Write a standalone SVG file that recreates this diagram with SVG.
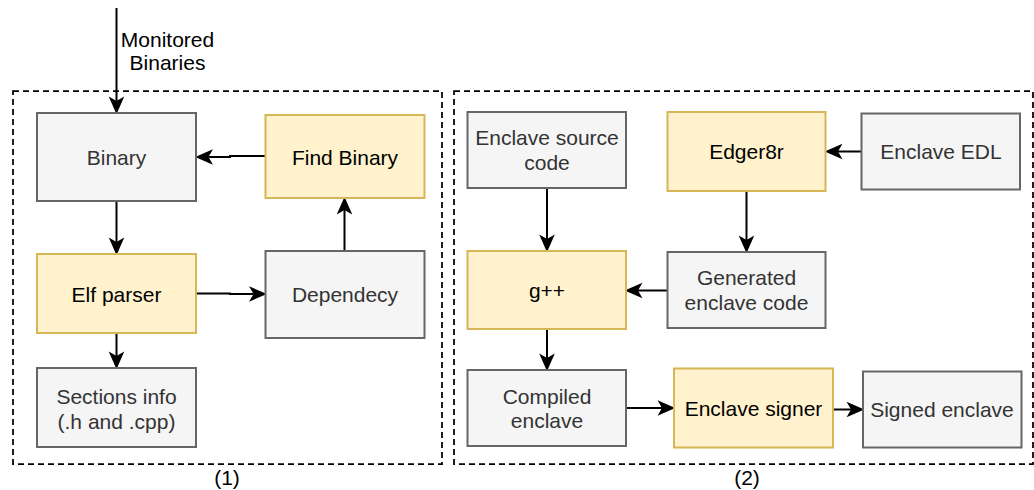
<svg xmlns="http://www.w3.org/2000/svg" width="1034" height="490" viewBox="0 0 1034 490">
  <style>
    .gray { fill: #f5f5f5; stroke: #666666; stroke-width: 2; }
    .yel { fill: #fff2cc; stroke: #d6b656; stroke-width: 2; }
    .grp { fill: none; stroke: #000000; stroke-width: 1.75; stroke-dasharray: 6 4; }
    text { font-family: "Liberation Sans", Arial, Helvetica, sans-serif; font-size: 21px; text-anchor: middle; }
    .tg { fill: #333333; }
    .tb { fill: #000000; }
    .edge { fill: none; stroke: #000000; stroke-width: 2; marker-end: url(#arr); }
  </style>
  <defs>
    <marker id="arr" markerUnits="userSpaceOnUse" markerWidth="20" markerHeight="20" viewBox="-5 -8 18 16" refX="0" refY="0" orient="auto">
      <path d="M12,0 L-4,-7 L0,0 L-4,7 Z" fill="#000000"/>
    </marker>
  </defs>
  <rect width="1034" height="490" fill="#ffffff"/>

  <g id="group1">
    <rect class="grp" x="13" y="91" width="429" height="373"/>
    <text class="tb" x="227" y="485">(1)</text>
  </g>
  <g id="group2">
    <rect class="grp" x="454" y="91" width="579" height="373"/>
    <text class="tb" x="747" y="485">(2)</text>
  </g>

  <g id="connectors">
    <line class="edge" x1="116.5" y1="8" x2="116.5" y2="101"/>
    <text class="tb" x="167.5" y="47">Monitored</text>
    <text class="tb" x="167.5" y="70">Binaries</text>
    <line class="edge" x1="116.5" y1="201" x2="116.5" y2="242"/>
    <line class="edge" x1="116.5" y1="333" x2="116.5" y2="356"/>
    <path class="edge" d="M196,293.5 H230 V294 H253.5"/>
    <path class="edge" d="M265.5,156 H230 V157 H208.5"/>
    <line class="edge" x1="344.5" y1="251" x2="344.5" y2="210"/>

    <line class="edge" x1="861.5" y1="151.5" x2="838" y2="151.5"/>
    <line class="edge" x1="547" y1="188" x2="547" y2="239"/>
    <line class="edge" x1="746.5" y1="191" x2="746.5" y2="240"/>
    <line class="edge" x1="667.5" y1="290.5" x2="638" y2="290.5"/>
    <line class="edge" x1="547" y1="329" x2="547" y2="358"/>
    <line class="edge" x1="626" y1="408" x2="662" y2="408"/>
    <line class="edge" x1="833" y1="409.5" x2="851" y2="409.5"/>
  </g>

  <g id="binary">
    <rect class="gray" x="37" y="113" width="159" height="88"/>
    <text class="tg" x="116.5" y="165">Binary</text>
  </g>
  <g id="find-binary">
    <rect class="yel" x="265.5" y="115" width="159" height="83"/>
    <text class="tb" x="345" y="164.5">Find Binary</text>
  </g>
  <g id="elf-parser">
    <rect class="yel" x="37" y="254" width="159" height="79"/>
    <text class="tb" x="116.5" y="301.5">Elf parser</text>
  </g>
  <g id="dependecy">
    <rect class="gray" x="265.5" y="251" width="159" height="87"/>
    <text class="tg" x="345" y="302">Dependecy</text>
  </g>
  <g id="sections-info">
    <rect class="gray" x="37" y="368" width="159" height="79"/>
    <text class="tg" x="116.5" y="403.5">Sections info</text>
    <text class="tg" x="116.5" y="428.5">(.h and .cpp)</text>
  </g>

  <g id="enclave-source">
    <rect class="gray" x="467.5" y="112" width="158.5" height="76"/>
    <text class="tg" x="547" y="145">Enclave source</text>
    <text class="tg" x="547" y="169.5">code</text>
  </g>
  <g id="edger8r">
    <rect class="yel" x="667.5" y="112" width="158" height="79"/>
    <text class="tb" x="746.5" y="159">Edger8r</text>
  </g>
  <g id="enclave-edl">
    <rect class="gray" x="861.5" y="113.5" width="158.5" height="76"/>
    <text class="tg" x="941" y="159">Enclave EDL</text>
  </g>
  <g id="gpp">
    <rect class="yel" x="467.5" y="251" width="158.5" height="78"/>
    <text class="tb" x="547" y="298">g++</text>
  </g>
  <g id="generated">
    <rect class="gray" x="667.5" y="252" width="158" height="76"/>
    <text class="tg" x="746.5" y="285">Generated</text>
    <text class="tg" x="746.5" y="310">enclave code</text>
  </g>
  <g id="compiled">
    <rect class="gray" x="467.5" y="370" width="158.5" height="76"/>
    <text class="tg" x="547" y="403.5">Compiled</text>
    <text class="tg" x="547" y="428">enclave</text>
  </g>
  <g id="enclave-signer">
    <rect class="yel" x="674" y="368.5" width="159" height="79"/>
    <text class="tb" x="753.5" y="415.5">Enclave signer</text>
  </g>
  <g id="signed-enclave">
    <rect class="gray" x="863" y="371.5" width="158.5" height="76"/>
    <text class="tg" x="942" y="416.5">Signed enclave</text>
  </g>
</svg>
